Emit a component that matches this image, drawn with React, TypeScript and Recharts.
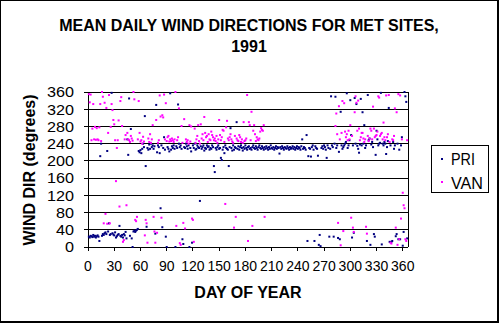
import { CartesianGrid, Legend, ReferenceLine, Scatter, ScatterChart, XAxis, YAxis } from "recharts";

// mean daily wind direction (degrees), day 1..365
const priDir = [
  24, 22, 26, 25, 23, 28, 24, 26, 22, 25,
  27, 24, 14, 211, 240, 26, 30, 28, 32, 34,
  30, 223, 36, 55, 28, 30, 358, 32, 29, 27,
  34, 22, 25, 28, 30, 49, 26, 24, 28, 22,
  30, 27, 35, 20, 250, 214, 345, 26, 274, 20,
  0, 36, 38, 35, 38, 40, 42, 223, 220, 225,
  218, 228, 240, 232, 304, 188, 47, 230, 226, 238,
  228, 240, 232, 236, 228, 234, 31, 330, 220, 236,
  232, 218, 90, 236, 46, 230, 255, 226, 24, 0,
  232, 228, 222, 357, 226, 234, 230, 236, 228, 0,
  234, 230, 331, 240, 232, 236, 228, 18, 7, 232,
  230, 240, 234, 228, 236, 0, 230, 222, 10, 236,
  230, 240, 226, 228, 236, 232, 230, 107, 234, 228,
  232, 236, 224, 230, 228, 236, 232, 234, 226, 230,
  228, 236, 232, 188, 174, 230, 226, 232, 236, 228,
  230, 207, 202, 226, 232, 218, 236, 230, 228, 226,
  188, 232, 276, 230, 224, 236, 226, 232, 230, 290,
  228, 234, 226, 232, 236, 230, 224, 232, 228, 236,
  230, 226, 232, 234, 228, 230, 226, 232, 236, 230,
  228, 234, 230, 226, 232, 236, 230, 228, 234, 230,
  226, 232, 228, 234, 230, 226, 232, 228, 236, 230,
  228, 232, 226, 230, 234, 228, 232, 230, 217, 232,
  228, 234, 230, 226, 232, 230, 228, 234, 230, 226,
  232, 228, 230, 234, 228, 232, 226, 230, 234, 228,
  232, 230, 226, 234, 250, 228, 232, 230, 226, 260,
  14, 211, 230, 228, 210, 232, 236, 226, 14, 234,
  230, 228, 212, 5, 28, 2, 230, 234, 228, 236,
  232, 226, 207, 236, 230, 24, 228, 350, 236, 232,
  24, 240, 349, 230, 236, 21, 221, 18, 314, 236,
  228, 232, 236, 240, 244, 357, 230, 236, 248, 341,
  260, 22, 236, 33, 346, 240, 332, 235, 228, 219,
  238, 344, 236, 313, 240, 283, 230, 236, 14, 353,
  248, 252, 5, 238, 244, 232, 30, 24, 214, 270,
  250, 236, 240, 242, 358, 6, 240, 236, 244, 240,
  216, 232, 246, 323, 12, 236, 12, 14, 244, 228,
  236, 25, 30, 240, 18, 226, 18, 236, 255, 3,
  35, 360, 350, 337, 20,
];

// VAN has no data between day 203 and day 282
const vanSpringStart = 1;
const vanSpring = [
  355, 336, 354, 248, 275, 332, 250, 279, 249, 276,
  250, 248, 278, 332, 246, 360, 349, 55, 335, 77,
  323, 54, 265, 353, 55, 279, 332, 318, 295, 285,
  248, 153, 230, 248, 294, 94, 339, 348, 281, 12,
  16, 250, 260, 97, 265, 250, 248, 244, 258, 252,
  247, 360, 343, 63, 60, 70, 250, 339, 265, 245,
  248, 240, 256, 245, 27, 63, 55, 10, 252, 244,
  262, 242, 250, 283, 70, 36, 10, 295, 33, 242,
  248, 352, 303, 68, 306, 301, 354, 250, 334, 246,
  255, 258, 245, 250, 246, 252, 248, 244, 250, 360,
  49, 248, 255, 322, 9, 5, 281, 242, 56, 297,
  43, 250, 244, 248, 240, 283, 245, 280, 66, 63,
  12, 275, 242, 250, 258, 283, 246, 240, 285, 252,
  262, 248, 302, 265, 255, 258, 244, 262, 250, 248,
  268, 260, 255, 248, 252, 246, 258, 242, 250, 295,
  260, 248, 255, 272, 270, 244, 100, 278, 293, 252,
  248, 255, 262, 250, 245, 242, 45, 258, 70, 252,
  248, 246, 260, 255, 244, 250, 242, 290, 246, 248,
  252, 353, 14, 290, 283, 248, 314, 49, 270, 283,
  262, 246, 255, 250, 248, 252, 268, 276, 272, 270,
  283, 70,
];
const vanAutumnStart = 283;
const vanAutumn = [
  281, 310, 262, 56, 327, 250, 4, 265,
  339, 37, 334, 268, 255, 262, 248, 270, 250, 283,
  68, 258, 45, 35, 313, 350, 335, 270, 340, 275,
  248, 255, 265, 265, 252, 244, 250, 47, 31, 258,
  246, 252, 275, 270, 250, 326, 275, 255, 258, 260,
  268, 350, 347, 258, 262, 265, 250, 289, 255, 248,
  352, 255, 262, 353, 244, 10, 8, 250, 248, 258,
  322, 45, 313, 5, 355, 18, 352, 66, 250, 126,
  97, 90, 18, 14, 248,
];

const dayTicks = [0, 30, 60, 90, 120, 150, 180, 210, 240, 270, 300, 330, 360];
const dirTicks = [0, 40, 80, 120, 160, 200, 240, 280, 320, 360];

const PRI = "#000080";
const VAN = "#ff00ff";
const font = "Arial, 'Liberation Sans', sans-serif";

const toPoints = (vals: number[], start: number) => vals.map((dir, i) => ({ day: start + i, dir }));
const priData = toPoints(priDir, 1);
const vanData = [...toPoints(vanSpring, vanSpringStart), ...toPoints(vanAutumn, vanAutumnStart)];

const square = (color: string) => (p: any) =>
  <rect x={p.cx - 1} y={p.cy - 1} width={2} height={2} fill={color} />;

function DayTick({ x, y, payload }: any) {
  return (
    <text x={x} y={y} dy="0.71em" textAnchor="middle" fontSize={14} fontFamily={font} fill="#000">
      {payload.value}
    </text>
  );
}

function DirTick({ x, y, payload }: any) {
  const s = String(payload.value);
  return (
    <text x={x} y={y} dy="0.355em" textAnchor="end" fontSize={15} fontFamily={font} fill="#000"
      textLength={s.length * 9} lengthAdjust="spacingAndGlyphs">
      {s}
    </text>
  );
}

function LegendBox() {
  return (
    <div style={{ width: 58, height: 48, boxSizing: "border-box", border: "1px solid #000", background: "#fff" }}>
      <svg width={56} height={46} style={{ display: "block" }}>
        <rect x={9} y={12} width={2} height={2} fill={PRI} />
        <text x={19} y={18.5} fontSize={17} fontFamily={font} textLength={24} lengthAdjust="spacingAndGlyphs">PRI</text>
        <rect x={9} y={35} width={2} height={2} fill={VAN} />
        <text x={19} y={42.5} fontSize={17} fontFamily={font} textLength={32} lengthAdjust="spacingAndGlyphs">VAN</text>
      </svg>
    </div>
  );
}

export default function App() {
  return (
    <div style={{ position: "fixed", left: 0, top: 0, width: 500, height: 324, background: "#fff" }}>
      <style>{"svg line{shape-rendering:crispEdges}"}</style>
      <ScatterChart width={500} height={324} margin={{ top: 92, right: 92, bottom: 47, left: 0 }}>
        <CartesianGrid vertical={false} stroke="#000" />
        <XAxis type="number" dataKey="day" domain={[0, 366]} ticks={dayTicks} interval={0}
          height={30} stroke="#000" tickSize={4} tickMargin={10} tick={<DayTick />} />
        <YAxis type="number" dataKey="dir" domain={[0, 360]} ticks={dirTicks} interval={0}
          width={88} stroke="#000" tickSize={4} tickMargin={10} tick={<DirTick />} />
        <ReferenceLine x={366} stroke="#000" ifOverflow="extendDomain" />
        <Legend layout="vertical" align="center" verticalAlign="middle"
          wrapperStyle={{ left: 431, top: 145, width: 58, height: 48 }} content={<LegendBox />} />
        <Scatter name="PRI" data={priData} shape={square(PRI)} isAnimationActive={false} />
        <Scatter name="VAN" data={vanData} shape={square(VAN)} isAnimationActive={false} />
      </ScatterChart>
      <svg width={500} height={324} style={{ position: "absolute", left: 0, top: 0, pointerEvents: "none" }}
        fontFamily={font} fontWeight="bold" fontSize={16}>
        <text x={249} y={31} textAnchor="middle">MEAN DAILY WIND DIRECTIONS FOR MET SITES,</text>
        <text x={249} y={52} textAnchor="middle">1991</text>
        <text x={248} y={298} textAnchor="middle">DAY OF YEAR</text>
        <text x={35} y={170} textAnchor="middle" transform="rotate(-90 35 170)">WIND DIR (degrees)</text>
      </svg>
      <div style={{ position: "absolute", left: 0, top: 0, width: 499, height: 323, boxSizing: "border-box",
        borderTop: "1px solid #000", borderLeft: "1px solid #000", borderRight: "2px solid #000",
        borderBottom: "2px solid #000", pointerEvents: "none" }} />
    </div>
  );
}
